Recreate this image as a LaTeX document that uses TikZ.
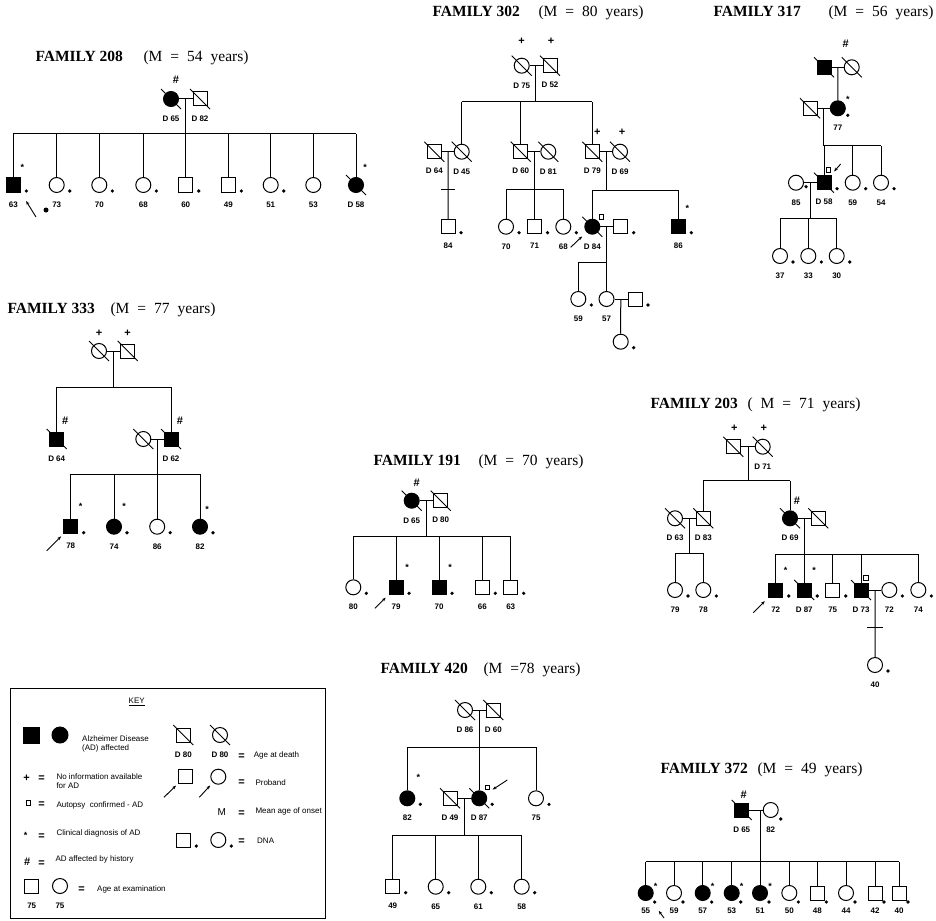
\documentclass[tikz,border=0pt]{standalone}
\usepackage{fontspec}
\setmainfont{Liberation Serif}
\setsansfont{Liberation Sans}
\usetikzlibrary{positioning, arrows.meta, calc}

\newcommand{\widesp}{\spaceskip=8pt\relax}

\tikzset{
  male/.style={draw, rectangle, minimum size=14pt, inner sep=0pt},
  female/.style={draw, circle, minimum size=15pt, inner sep=0pt},
  maff/.style={male, fill=black},
  faff/.style={female, fill=black},
  title/.style={anchor=base west, inner sep=0pt, font=\bfseries\fontsize{15.5}{18}\selectfont},
  subtitle/.style={anchor=base west, inner sep=0pt, font=\fontsize{15.5}{18}\selectfont\widesp},
  sign/.style={inner sep=0pt, font=\sffamily\bfseries\fontsize{11}{12}\selectfont},
  clinmark/.style={inner sep=0pt, font=\sffamily\bfseries\fontsize{9}{10}\selectfont},
  autopsy/.style={draw, rectangle, minimum size=4.5pt, inner sep=0pt, line width=0.7pt},
  proband/.style={-{Stealth[length=4pt,width=3pt]}, line width=0.9pt},
  keytext/.style={anchor=west, align=left, inner sep=0pt, font=\sffamily\fontsize{8}{9.5}\selectfont},
  keyeq/.style={inner sep=0pt, font=\sffamily\bfseries\fontsize{11}{12}\selectfont},
  every label/.style={inner sep=0pt, font=\sffamily\bfseries\fontsize{8}{8}\selectfont},
}

\newcommand{\dna}[2][13,6]{\fill ([shift={(#1)}]#2.center) circle (1.8pt);}
\newcommand{\clin}[2][9,-18]{\node[clinmark] at ([shift={(#1)}]#2.center) {*};}
\newcommand{\dead}[1]{\draw[line width=0.9pt] ([shift={(-10,-10)}]#1.center) -- ([shift={(10,10)}]#1.center);}

\begin{document}
\begin{tikzpicture}[x=1pt, y=-1pt, line width=1pt, label distance=8.5pt]
\useasboundingbox (0,0) rectangle (936,920);

% family 208
\node[title] (t208) at (35,62) {FAMILY 208};
\node[subtitle] (u208) at (143,62) {(M = 54 years)};
\node[faff, label=below:D 65] (a208) at (171,99) {};
\node[male, label=below:D 82] (b208) at (200,99) {};
\dead{a208} \dead{b208}
\node[sign] (h208) at ([shift={(5,-19)}]a208.center) {\#};
\draw (a208) -- (b208);
\coordinate (mr208) at ($(a208)!0.5!(b208)$);
\coordinate (sb208) at (0,134);
\draw (mr208) -- (mr208 |- sb208);
\foreach \i/\x/\s/\a in {1/13.3/maff/63, 2/56.7/female/73, 3/99.3/female/70, 4/143.3/female/68,
    5/185.7/male/60, 6/228.3/male/49, 7/270.7/female/51, 8/313.3/female/53, 9/356/faff/D 58} {
  \node[\s, label=below:\a] (c208-\i) at (\x,185) {};
  \draw (c208-\i) -- (c208-\i |- sb208);
}
\draw (c208-1 |- sb208) -- (c208-9 |- sb208);
\foreach \i in {1,...,7} {\dna{c208-\i}}
\clin{c208-1} \clin{c208-9} \dead{c208-9}
\coordinate (pr208) at (36,217);
\draw[proband, shorten >=10pt] (pr208) -- (c208-1.south east);
\fill (46,210) circle (2.5pt);

% family 302
\node[title] (t302) at (432,17) {FAMILY 302};
\node[subtitle] (u302) at (538,17) {(M = 80 years)};
\node[female, label=below:D 75] (a302) at (521.7,65.7) {};
\node[male, label=below:D 52] (b302) at (550,65.7) {};
\dead{a302} \dead{b302}
\node[sign] (pa302) at ([shift={(0,-24)}]a302.center) {+};
\node[sign] (pb302) at ([shift={(1,-24)}]b302.center) {+};
\draw (a302) -- (b302);
\coordinate (mr302) at ($(a302)!0.5!(b302)$);
\coordinate (sb302) at (0,101.7);
\node[male, label=below:D 64] (c302) at (434.3,151.7) {};
\node[female, label=below:D 45] (d302) at (461.7,151.7) {};
\node[male, label=below:D 60] (e302) at (520.7,151.7) {};
\node[female, label=below:D 81] (f302) at (548.3,151.7) {};
\node[male, label=below:D 79] (g302) at (592.3,151.7) {};
\node[female, label=below:D 69] (h302) at (620,151.7) {};
\foreach \n in {c,d,e,f,g,h} {\dead{\n302}}
\node[sign] (pg302) at ([shift={(5,-19)}]g302.center) {+};
\node[sign] (ph302) at ([shift={(2,-19)}]h302.center) {+};
\draw (mr302) -- (mr302 |- sb302);
\draw (d302 |- sb302) -- (g302 |- sb302);
\foreach \n in {d,e,g} {\draw (\n302) -- (\n302 |- sb302);}
\draw (c302) -- (d302) (e302) -- (f302) (g302) -- (h302);
% children of D 64 and D 45
\coordinate (mc302) at ($(c302)!0.5!(d302)$);
\node[male, label=below:84] (i302) at (448,226.7) {};
\draw (mc302) -- (i302);
\coordinate (x302) at ($(mc302)!0.5!(i302)$);
\draw ([xshift=-7]x302) -- ([xshift=7]x302);
\dna{i302}
% children of D 60 and D 81
\coordinate (me302) at ($(e302)!0.5!(f302)$);
\coordinate (sbe302) at (0,189);
\node[female, label=below:70] (j302) at (506,226.7) {};
\node[male, label=below:71] (k302) at (534.5,226.7) {};
\node[female, label=below:68] (l302) at (563.3,226.7) {};
\draw (me302) -- (me302 |- sbe302);
\draw (j302 |- sbe302) -- (l302 |- sbe302);
\foreach \n in {j,k,l} {\draw (\n302) -- (\n302 |- sbe302); \dna{\n302}}
% children of D 79 and D 69
\coordinate (mg302) at ($(g302)!0.5!(h302)$);
\coordinate (sbg302) at (0,190);
\node[faff, label=below:D 84] (n302) at (592.3,226.7) {};
\node[male] (o302) at (620.7,226.7) {};
\node[maff, label=below:86] (q302) at (678.3,226.7) {};
\dead{n302}
\node[autopsy] (au302) at ([shift={(9,-10)}]n302.center) {};
\coordinate (pr302) at (570.7,247.3);
\draw[proband, shorten >=6pt] (pr302) -- (n302);
\draw (mg302) -- (mg302 |- sbg302);
\draw (n302 |- sbg302) -- (q302 |- sbg302);
\draw (n302) -- (n302 |- sbg302) (q302) -- (q302 |- sbg302);
\draw (n302) -- (o302);
\dna{o302} \dna{q302} \clin{q302}
% grandchildren
\coordinate (mn302) at ($(n302)!0.5!(o302)$);
\coordinate (sbn302) at (0,262.7);
\node[female, label=below:59] (r302) at (578.3,299) {};
\node[female, label=below:57] (v302) at (606.5,299) {};
\node[male] (w302) at (635,299) {};
\draw (mn302) -- (mn302 |- sbn302);
\draw (r302 |- sbn302) -- (v302 |- sbn302);
\draw (r302) -- (r302 |- sbn302) (v302) -- (v302 |- sbn302);
\draw (v302) -- (w302);
\dna{r302} \dna{w302}
\coordinate (mv302) at ($(v302)!0.5!(w302)$);
\node[female] (z302) at (620.7,341.7) {};
\draw (mv302) -- (z302);
\dna{z302}

% family 317
\node[title] (t317) at (713,17) {FAMILY 317};
\node[subtitle] (u317) at (828,17) {(M = 56 years)};
\node[maff] (a317) at (824,67.3) {};
\node[female] (b317) at (851.7,67.3) {};
\dead{a317} \dead{b317}
\node[sign] (h317) at (845.7,43.3) {\#};
\draw (a317) -- (b317);
\coordinate (mr317) at ($(a317)!0.5!(b317)$);
\node[faff, label=below:77] (c317) at (837.8,108.3) {};
\node[male] (d317) at (810,108.3) {};
\dead{d317}
\draw (mr317) -- (c317);
\draw (d317) -- (c317);
\clin[10,-9]{c317} \dna[10,7]{c317}
\coordinate (mc317) at ($(d317)!0.5!(c317)$);
\coordinate (sb317) at (0,145.7);
\node[maff, label=below:D 58] (e317) at (824,182.7) {};
\node[female, label=below:59] (f317) at (852.7,182.7) {};
\node[female, label=below:54] (g317) at (881,182.7) {};
\node[female, label=below:85] (k317) at (796,182.7) {};
\dead{e317}
\node[autopsy] (au317) at ([shift={(4.5,-13)}]e317.center) {};
\coordinate (pr317) at (840.7,164);
\draw[proband, shorten >=5pt] (pr317) -- (e317);
\draw (mc317) -- (mc317 |- sb317);
\draw (e317 |- sb317) -- (g317 |- sb317);
\foreach \n in {e,f,g} {\draw (\n317) -- (\n317 |- sb317); \dna{\n317}}
\draw (k317) -- (e317);
\dna[10,4]{k317}
\coordinate (me317) at ($(k317)!0.5!(e317)$);
\coordinate (sbe317) at (0,218.3);
\node[female, label=below:37] (l317) at (780,256) {};
\node[female, label=below:33] (n317) at (808.3,256) {};
\node[female, label=below:30] (o317) at (836.7,256) {};
\draw (me317) -- (me317 |- sbe317);
\draw (l317 |- sbe317) -- (o317 |- sbe317);
\foreach \n in {l,n,o} {\draw (\n317) -- (\n317 |- sbe317); \dna{\n317}}

% family 333
\node[title] (t333) at (7,313) {FAMILY 333};
\node[subtitle] (u333) at (110,313) {(M = 77 years)};
\node[female] (a333) at (99,351) {};
\node[male] (b333) at (127.7,351) {};
\dead{a333} \dead{b333}
\node[sign] (pa333) at ([shift={(0,-18)}]a333.center) {+};
\node[sign] (pb333) at ([shift={(0,-18)}]b333.center) {+};
\draw (a333) -- (b333);
\coordinate (mr333) at ($(a333)!0.5!(b333)$);
\coordinate (sb333) at (0,387.3);
\node[maff, label=below:D 64] (c333) at (56.7,439) {};
\node[female] (d333) at (143.3,439) {};
\node[maff, label=below:D 62] (e333) at (171,439) {};
\foreach \n in {c,d,e} {\dead{\n333}}
\node[sign] (hc333) at ([shift={(8.5,-18)}]c333.center) {\#};
\node[sign] (he333) at ([shift={(9,-18)}]e333.center) {\#};
\draw (mr333) -- (mr333 |- sb333);
\draw (c333 |- sb333) -- (e333 |- sb333);
\draw (c333) -- (c333 |- sb333) (e333) -- (e333 |- sb333);
\draw (d333) -- (e333);
\coordinate (md333) at ($(d333)!0.5!(e333)$);
\coordinate (sbd333) at (0,474.3);
\node[maff, label=below:78] (f333) at (70.7,526.7) {};
\node[faff, label=below:74] (g333) at (114,526.7) {};
\node[female, label=below:86] (i333) at (157.2,526.7) {};
\node[faff, label=below:82] (j333) at (200,526.7) {};
\draw (md333) -- (md333 |- sbd333);
\draw (f333 |- sbd333) -- (j333 |- sbd333);
\foreach \n in {f,g,i,j} {\draw (\n333) -- (\n333 |- sbd333); \dna{\n333}}
\clin[10,-20]{f333} \clin[10,-20]{g333} \clin[7,-17]{j333}
\coordinate (pr333) at (46.7,550.7);
\draw[proband, shorten >=3pt] (pr333) -- (f333);

% family 191
\node[title] (t191) at (373,465) {FAMILY 191};
\node[subtitle] (u191) at (478,465) {(M = 70 years)};
\node[faff, label=below:D 65] (a191) at (411.7,500.7) {};
\node[male, label=below:D 80] (b191) at (440.7,500.7) {};
\dead{a191} \dead{b191}
\node[sign] (h191) at ([shift={(5,-18)}]a191.center) {\#};
\draw (a191) -- (b191);
\coordinate (mr191) at ($(a191)!0.5!(b191)$);
\coordinate (sb191) at (0,536.7);
\draw (mr191) -- (mr191 |- sb191);
\foreach \i/\x/\s/\a in {1/353.3/female/80, 2/396/maff/79, 3/439/maff/70, 4/482.3/male/66, 5/510.7/male/63} {
  \node[\s, label=below:\a] (c191-\i) at (\x,587.3) {};
  \draw (c191-\i) -- (c191-\i |- sb191);
  \dna{c191-\i}
}
\draw (c191-1 |- sb191) -- (c191-5 |- sb191);
\clin[11,-20]{c191-2} \clin[11,-20]{c191-3}
\coordinate (pr191) at (375,608.3);
\draw[proband, shorten >=4pt] (pr191) -- (c191-2);

% family 203
\node[title] (t203) at (650,408) {FAMILY 203};
\node[subtitle] (u203) at (747,408) {( M = 71 years)};
\node[male] (a203) at (733.3,446.7) {};
\node[female, label=below:D 71] (b203) at (762.7,446.7) {};
\dead{a203} \dead{b203}
\node[sign] (pa203) at ([shift={(1,-18)}]a203.center) {+};
\node[sign] (pb203) at ([shift={(1,-18)}]b203.center) {+};
\draw (a203) -- (b203);
\coordinate (mr203) at ($(a203)!0.5!(b203)$);
\coordinate (sb203) at (0,480.7);
\node[female, label=below:D 63] (c203) at (675,518.3) {};
\node[male, label=below:D 83] (d203) at (703.3,518.3) {};
\node[faff, label=below:D 69] (e203) at (790,518.3) {};
\node[male] (f203) at (818.3,518.3) {};
\foreach \n in {c,d,e,f} {\dead{\n203}}
\node[sign] (h203) at ([shift={(7,-18)}]e203.center) {\#};
\draw (mr203) -- (mr203 |- sb203);
\draw (d203 |- sb203) -- (e203 |- sb203);
\draw (d203) -- (d203 |- sb203) (e203) -- (e203 |- sb203);
\draw (c203) -- (d203) (e203) -- (f203);
\coordinate (mc203) at ($(c203)!0.5!(d203)$);
\coordinate (sbc203) at (0,553.3);
\node[female, label=below:79] (g203) at (675,590) {};
\node[female, label=below:78] (i203) at (703.3,590) {};
\draw (mc203) -- (mc203 |- sbc203);
\draw (g203 |- sbc203) -- (i203 |- sbc203);
\foreach \n in {g,i} {\draw (\n203) -- (\n203 |- sbc203); \dna{\n203}}
\coordinate (me203) at ($(e203)!0.5!(f203)$);
\coordinate (sbe203) at (0,554.3);
\draw (me203) -- (me203 |- sbe203);
\foreach \i/\x/\s/\a in {1/775.7/maff/72, 2/804.2/maff/D 87, 3/832.7/male/75, 4/861/maff/D 73, 5/918.3/female/74} {
  \node[\s, label=below:\a] (k203-\i) at (\x,590) {};
  \draw (k203-\i) -- (k203-\i |- sbe203);
}
\draw (k203-1 |- sbe203) -- (k203-5 |- sbe203);
\node[female, label=below:72] (w203) at (889.3,590) {};
\draw (k203-4) -- (w203);
\foreach \n in {k203-1,k203-2,k203-3,w203,k203-5} {\dna{\n}}
\clin[10,-20]{k203-1} \clin[10,-20]{k203-2}
\dead{k203-2} \dead{k203-4}
\node[autopsy] (au203) at ([shift={(5,-12)}]k203-4.center) {};
\coordinate (pr203) at (753.3,612.7);
\draw[proband, shorten >=5pt] (pr203) -- (k203-1);
\coordinate (mw203) at ($(k203-4)!0.5!(w203)$);
\node[female, label=below:40] (z203) at (875,665) {};
\draw (mw203) -- (z203);
\coordinate (x203) at ($(mw203)!0.5!(z203)$);
\draw ([xshift=-8]x203) -- ([xshift=8]x203);
\dna{z203}

% family 420
\node[title] (t420) at (380,673) {FAMILY 420};
\node[subtitle] (u420) at (483,673) {(M =78 years)};
\node[female, label=below:D 86] (a420) at (465,710) {};
\node[male, label=below:D 60] (b420) at (493.3,710) {};
\dead{a420} \dead{b420}
\draw (a420) -- (b420);
\coordinate (mr420) at ($(a420)!0.5!(b420)$);
\coordinate (sb420) at (0,747.3);
\node[faff, label=below:82] (c420) at (407.3,798.3) {};
\node[male, label=below:D 49] (d420) at (450,798.3) {};
\node[faff, label=below:D 87] (e420) at (479.2,798.3) {};
\node[female, label=below:75] (f420) at (536,798.3) {};
\dead{d420} \dead{e420}
\draw (mr420) -- (mr420 |- sb420);
\draw (c420 |- sb420) -- (f420 |- sb420);
\foreach \n in {c,e,f} {\draw (\n420) -- (\n420 |- sb420); \dna{\n420}}
\clin[11,-21]{c420}
\draw (d420) -- (e420);
\node[autopsy] (au420) at ([shift={(8,-11)}]e420.center) {};
\coordinate (pr420) at (507.3,780);
\draw[proband, shorten >=8pt] (pr420) -- (e420);
\coordinate (md420) at ($(d420)!0.5!(e420)$);
\coordinate (sbd420) at (0,835);
\draw (md420) -- (md420 |- sbd420);
\foreach \i/\x/\s/\a in {1/392.7/male/49, 2/435.7/female/65, 3/478.3/female/61, 4/521.7/female/58} {
  \node[\s, label=below:\a] (k420-\i) at (\x,886.7) {};
  \draw (k420-\i) -- (k420-\i |- sbd420);
  \dna{k420-\i}
}
\draw (k420-1 |- sbd420) -- (k420-4 |- sbd420);

% family 372
\node[title] (t372) at (660,773) {FAMILY 372};
\node[subtitle] (u372) at (757,773) {(M = 49 years)};
\node[maff, label=below:D 65] (a372) at (741.7,810) {};
\node[female, label=below:82] (b372) at (770.7,810) {};
\dead{a372}
\node[sign] (h372) at ([shift={(2,-15)}]a372.center) {\#};
\draw (a372) -- (b372);
\dna[10,9]{b372}
\coordinate (mr372) at (760,810);
\coordinate (sb372) at (0,861.7);
\draw (mr372) -- (mr372 |- sb372);
\foreach \i/\x/\s/\a in {1/645.7/faff/55, 2/674/female/59, 3/702.7/faff/57, 4/731.7/faff/53, 5/760/faff/51,
    6/789.3/female/50, 7/817.3/male/48, 8/846/female/44, 9/875/male/42, 10/899/male/40} {
  \node[\s, label={[label distance=6.5pt]below:\a}] (c372-\i) at (\x,893) {};
  \draw (c372-\i) -- (c372-\i |- sb372);
  \dna[9,9]{c372-\i}
}
\draw (c372-1 |- sb372) -- (c372-10 |- sb372);
\foreach \i in {1,3,4,5} {\clin[10,-7]{c372-\i}}
\coordinate (pr372) at (664,918);
\draw[proband, shorten >=14pt] (pr372) -- (c372-1);

% key
\draw (10,688) rectangle (325,918);
\node[keytext, anchor=center] (kk) at (136.7,702) {\underline{KEY}};
\node[maff, minimum size=16pt] (ka1) at (31.7,735) {};
\node[faff, minimum size=16pt] (ka2) at (60,735) {};
\node[keytext] (kat) at (81.7,744) {Alzheimer Disease\\(AD) affected};
\node[male, label=below:D 80] (kd1) at (183.3,735) {};
\node[female, label=below:D 80] (kd2) at (220,735) {};
\dead{kd1} \dead{kd2}
\node[keyeq] (kde) at (241.7,757) {=};
\node[keytext] (kdt) at (253.3,755) {Age at death};
\node[keyeq] (kps) at (26.7,778.3) {+};
\node[keyeq] (kpe) at (41.7,778.3) {=};
\node[keytext] (kpt) at (56,781) {No information available\\for AD};
\node[male] (kb1) at (185,776.7) {};
\node[female] (kb2) at (218.3,776.7) {};
\coordinate (kr1) at (164,797.3);
\coordinate (kr2) at (199.3,797.3);
\draw[proband, shorten >=2pt] (kr1) -- (kb1);
\draw[proband, shorten >=4pt] (kr2) -- (kb2);
\node[keyeq] (kbe) at (241.7,782.7) {=};
\node[keytext] (kbt) at (255,782.7) {Proband};
\node[autopsy] (kau) at (28.3,802.7) {};
\node[keyeq] (kaue) at (41.7,805) {=};
\node[keytext] (kaut) at (56,805) {Autopsy~ confirmed - AD};
\node[keyeq, font=\sffamily\fontsize{10}{12}\selectfont] (km) at (221.7,811.7) {M};
\node[keyeq] (kme) at (241.7,814) {=};
\node[keytext] (kmt) at (255,811.5) {Mean age of onset};
\node[clinmark] (kc) at (25.7,835) {*};
\node[keyeq] (kce) at (41.7,836.7) {=};
\node[keytext] (kct) at (56,833.3) {Clinical diagnosis of AD};
\node[male] (kn1) at (183.3,840) {};
\node[female] (kn2) at (218.3,840) {};
\dna{kn1} \dna{kn2}
\node[keyeq] (kne) at (241.7,841.7) {=};
\node[keytext] (knt) at (256.7,841) {DNA};
\node[keyeq] (kh) at (27.3,861.7) {\#};
\node[keyeq] (khe) at (41.7,863.3) {=};
\node[keytext] (kht) at (55,859) {AD affected by history};
\node[male, label=below:75] (ke1) at (31.7,886) {};
\node[female, label=below:75] (ke2) at (60,886) {};
\node[keyeq] (kee) at (81.7,889.3) {=};
\node[keytext] (ket) at (96.7,889.3) {Age at examination};
\end{tikzpicture}
\end{document}
